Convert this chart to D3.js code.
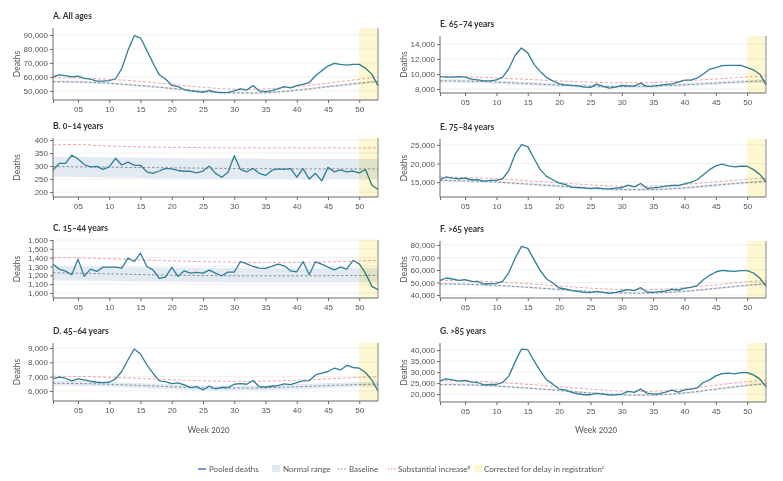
<!DOCTYPE html>
<html><head><meta charset="utf-8">
<script src="https://cdn.jsdelivr.net/npm/d3@7"></script>
<style>
body{margin:0;background:#fff;}
svg{font-family:Lato,"Open Sans",sans-serif;font-variant-numeric:oldstyle-nums;font-feature-settings:"onum";}
</style></head><body>
<svg id="c" width="783" height="481"></svg>
<script>
const weeks = d3.range(1, 54);
const smoothWeeks = [1,5,9,13,17,21,25,29,33,37,41,45,49,53];
const xTickWeeks = [5,10,15,20,25,30,35,40,45,50];
const xTickLabels = ["05","10","15","20","25","30","35","40","45","50"];
const correctedFrom = 50;

// Panel A: All ages
const pooledA = [60000,61500,61000,60000,60500,59000,58500,57000,57000,57300,58700,66000,79000,89500,88000,79000,70000,61500,58500,54000,53000,51000,50000,49500,49000,50300,49200,48800,49000,50000,51500,50600,53800,50000,49500,50200,51500,53000,52200,53800,54700,56000,60800,64500,67800,69700,69000,68500,69000,69000,66200,62000,53800];
const baseA = [56600,56400,55700,54500,53000,51300,49700,48600,48500,49300,51000,53000,55000,56800];
const lowA = [55800,55600,54900,53700,52200,50500,48900,47800,47700,48500,50200,52200,54200,56000];
const highA = [57400,57200,56500,55300,53800,52100,50500,49400,49300,50100,51800,53800,55800,57600];
const subA = [59400,59200,58500,57500,56000,54200,52600,51400,51200,52000,53600,55600,57800,59800];
const ticksA = [50000,60000,70000,80000,90000];

// Panel B: 0-14 years
const pooledB = [285,310,310,342,327,306,297,299,287,297,330,304,315,303,303,278,272,281,291,289,283,280,280,274,281,300,272,257,276,340,287,278,291,272,264,283,289,287,291,257,290,250,272,243,295,278,285,278,281,274,287,227,210];
const baseB = [298,297,296,295,294,293,292,291,290,290,289,289,289,289];
const lowB = [259,258,256,255,253,252,251,250,250,249,249,249,249,249];
const highB = [336,335,334,333,332,331,330,329,329,328,328,328,328,328];
const subB = [381,383,378,375,373,372,371,370,370,370,370,370,370,370];
const ticksB = [200,250,300,350,400];

// Panel C: 15-44 years
const pooledC = [1326,1270,1248,1206,1383,1188,1270,1244,1293,1293,1293,1281,1394,1356,1450,1300,1262,1165,1180,1289,1188,1251,1225,1233,1225,1259,1225,1195,1236,1236,1356,1330,1300,1281,1278,1300,1326,1308,1251,1240,1356,1206,1353,1326,1293,1262,1293,1270,1368,1330,1225,1075,1038];
const baseC = [1228,1224,1218,1212,1205,1200,1197,1195,1194,1194,1195,1196,1198,1200];
const lowC = [1145,1142,1138,1134,1130,1127,1124,1122,1121,1120,1120,1120,1120,1121];
const highC = [1300,1298,1295,1292,1289,1286,1284,1282,1281,1280,1280,1280,1281,1282];
const subC = [1400,1398,1390,1380,1370,1362,1355,1350,1347,1346,1348,1352,1360,1370];
const ticksC = [1000,1100,1200,1300,1400,1500,1600];

// Panel D: 45-64 years
const pooledD = [6840,6960,6890,6700,6840,6770,6680,6610,6590,6610,6840,7360,8180,8930,8580,7830,7240,6700,6660,6520,6560,6420,6230,6300,6070,6350,6140,6260,6230,6470,6520,6470,6730,6300,6260,6330,6370,6490,6440,6580,6700,6720,7120,7240,7360,7590,7470,7780,7640,7590,7290,6770,6000];
const baseD = [6540,6520,6480,6420,6350,6280,6220,6200,6210,6250,6310,6380,6440,6480];
const lowD = [6370,6350,6310,6250,6180,6110,6050,6030,6040,6080,6140,6210,6270,6310];
const highD = [6710,6690,6650,6590,6520,6450,6390,6370,6380,6420,6480,6550,6610,6650];
const subD = [7030,7010,6970,6910,6840,6770,6710,6680,6680,6710,6770,6850,6930,7000];
const ticksD = [6000,7000,8000,9000];

// Panel E: 65-74 years
const pooledE1 = [9660,9580,9580,9660,9580,9310,9220,9090,9090,9220,9580,10760,12510,13470,12820,11290,10320,9530,9090,8700,8560,8480,8430,8260,8210,8650,8340,8120,8260,8480,8430,8390,8780,8340,8390,8480,8610,8700,8920,9180,9180,9440,10010,10630,10850,11110,11160,11160,11160,10850,10540,10010,8560];
const baseE1 = [9090,9060,8960,8800,8640,8490,8380,8330,8350,8450,8610,8790,8960,9090];
const lowE1 = [8870,8840,8740,8580,8420,8270,8160,8110,8130,8230,8390,8570,8740,8870];
const highE1 = [9310,9280,9180,9020,8860,8710,8600,8550,8570,8670,8830,9010,9180,9310];
const subE1 = [9660,9630,9520,9360,9200,9040,8910,8830,8840,8950,9130,9340,9560,9750];
const ticksE1 = [8000,10000,12000,14000];

// Panel E: 75-84 years
const pooledE2 = [15730,16360,16090,15910,16090,15640,15640,15270,15450,15450,15910,18180,22550,25090,24550,21360,18360,16540,15640,14730,14360,13640,13550,13450,13270,13450,13270,13180,13360,13550,14180,13730,14640,13360,13450,13640,13910,14090,14090,14550,14910,15640,17000,18360,19360,19820,19360,19090,19270,19270,18360,17090,15180];
const baseE2 = [15450,15350,15100,14700,14250,13800,13350,13050,12980,13150,13600,14200,14750,15200];
const lowE2 = [15100,15000,14750,14350,13900,13450,13000,12700,12630,12800,13250,13850,14400,14850];
const highE2 = [15800,15700,15450,15050,14600,14150,13700,13400,13330,13500,13950,14550,15100,15550];
const subE2 = [16360,16250,16000,15600,15150,14700,14250,13950,13880,14050,14500,15100,15650,16100];
const ticksE2 = [15000,20000,25000];

// Panel F: >65 years
const pooledF = [51730,53600,52800,51730,52270,50930,50670,48800,49070,49330,50930,58130,69600,78930,77330,68270,59470,52800,49600,45600,44800,43470,42930,42130,41870,42930,42130,41330,42130,43200,44270,43470,45870,42400,42130,42670,43200,44530,44000,45330,46130,47470,52270,55730,58400,59730,59200,58930,59470,59470,57600,53600,46930];
const baseF = [48800,48600,47900,46800,45500,44100,42800,41800,41500,42000,43400,45300,47300,49000];
const lowF = [48000,47800,47100,46000,44700,43300,42000,41000,40700,41200,42600,44500,46500,48200];
const highF = [49600,49400,48700,47600,46300,44900,43600,42600,42300,42800,44200,46100,48100,49800];
const subF = [51700,51500,50800,49700,48300,46800,45500,44500,44200,44800,46300,48200,50200,51500];
const ticksF = [40000,50000,60000,70000,80000];

// Panel G: >85 years
const pooledG = [26020,26920,26470,25870,26170,25420,25260,24210,24360,24360,25260,28270,34740,40450,40150,35040,30530,26470,24510,22260,21950,20750,20150,19700,19700,20300,20000,19550,19700,20000,21200,20750,22260,20450,20000,20150,20900,21800,20900,21950,22260,22710,25260,26470,28270,29320,29470,29170,29770,29770,28720,26920,23310];
const baseG = [24300,24200,23800,23100,22300,21400,20500,19800,19500,19800,20800,22200,23600,24700];
const lowG = [23800,23700,23300,22600,21800,20900,20000,19300,19000,19300,20300,21700,23100,24200];
const highG = [24800,24700,24300,23600,22800,21900,21000,20300,20000,20300,21300,22700,24100,25200];
const subG = [26000,25900,25500,24800,24000,23100,22200,21500,21200,21600,22600,24000,25400,26300];
const ticksG = [20000,25000,30000,35000,40000];

const legendLabels = ["Pooled deaths","Normal range","Baseline","Substantial increase","Corrected for delay in registration"];

const panels = [
  {title:"A. All ages", pooled:pooledA, base:baseA, low:lowA, high:highA, sub:subA, ticks:ticksA, domain:[43500,95000], x0:53, x1:378, y0:28, y1:100},
  {title:"B. 0–14 years", pooled:pooledB, base:baseB, low:lowB, high:highB, sub:subB, ticks:ticksB, domain:[181,408], x0:53, x1:378, y0:138, y1:197},
  {title:"C. 15–44 years", pooled:pooledC, base:baseC, low:lowC, high:highC, sub:subC, ticks:ticksC, domain:[943,1600], x0:53, x1:378, y0:240, y1:298},
  {title:"D. 45–64 years", pooled:pooledD, base:baseD, low:lowD, high:highD, sub:subD, ticks:ticksD, domain:[5300,9350], x0:53, x1:378, y0:343, y1:401},
  {title:"E. 65–74 years", pooled:pooledE1, base:baseE1, low:lowE1, high:highE1, sub:subE1, ticks:ticksE1, domain:[7470,15070], x0:440, x1:766, y0:36, y1:93},
  {title:"E. 75–84 years", pooled:pooledE2, base:baseE2, low:lowE2, high:highE2, sub:subE2, ticks:ticksE2, domain:[11000,26600], x0:440, x1:766, y0:139, y1:197},
  {title:"F. >65 years", pooled:pooledF, base:baseF, low:lowF, high:highF, sub:subF, ticks:ticksF, domain:[37600,83200], x0:440, x1:766, y0:241, y1:298},
  {title:"G. >85 years", pooled:pooledG, base:baseG, low:lowG, high:highG, sub:subG, ticks:ticksG, domain:[16400,43200], x0:440, x1:766, y0:343, y1:402}
];

const C = {line:"#2f7f99", band:"#e3eaf1", base:"#8a8f96", sub:"#f2a3a3", yellow:"#fdf8d2", axis:"#6b6b6b", text:"#555", title:"#333", grid:"#ececec"};
const svg = d3.select("#c");
const fmt = d3.format(",");

panels.forEach((p, i) => {
  const x = d3.scaleLinear().domain([1,53]).range([p.x0, p.x1]);
  const y = d3.scaleLinear().domain(p.domain).range([p.y1, p.y0]);
  const g = svg.append("g");

  g.append("text").attr("x", p.x0).attr("y", p.y0 - 9).attr("font-size", 8.5).attr("font-weight", "bold").attr("fill", C.title).text(p.title);

  g.selectAll(".grid").data(p.ticks).join("line")
    .attr("x1", p.x0).attr("x2", p.x1).attr("y1", d => y(d)).attr("y2", d => y(d))
    .attr("stroke", C.grid).attr("stroke-width", 0.8);

  const smooth = smoothWeeks.map((w, k) => ({w, lo:p.low[k], hi:p.high[k], b:p.base[k], s:p.sub[k]}));
  g.append("path").datum(smooth)
    .attr("d", d3.area().x(d => x(d.w)).y0(d => y(d.lo)).y1(d => y(d.hi)).curve(d3.curveMonotoneX))
    .attr("fill", C.band);
  g.append("path").datum(smooth)
    .attr("d", d3.line().x(d => x(d.w)).y(d => y(d.b)).curve(d3.curveMonotoneX))
    .attr("fill", "none").attr("stroke", C.base).attr("stroke-width", 1).attr("stroke-dasharray", "2.5,2");
  g.append("path").datum(smooth)
    .attr("d", d3.line().x(d => x(d.w)).y(d => y(d.s)).curve(d3.curveMonotoneX))
    .attr("fill", "none").attr("stroke", C.sub).attr("stroke-width", 1).attr("stroke-dasharray", "3,2");
  g.append("path").datum(weeks.map((w, k) => [w, p.pooled[k]]))
    .attr("d", d3.line().x(d => x(d[0])).y(d => y(d[1])))
    .attr("fill", "none").attr("stroke", C.line).attr("stroke-width", 1.3).attr("stroke-linejoin", "round");

  g.append("rect").attr("x", x(correctedFrom)).attr("y", p.y0).attr("width", x(53) - x(correctedFrom)).attr("height", p.y1 - p.y0)
    .attr("fill", C.yellow).style("mix-blend-mode", "multiply");

  g.append("line").attr("x1", p.x1).attr("x2", p.x1).attr("y1", p.y0).attr("y2", p.y1).attr("stroke", C.axis).attr("stroke-width", 0.8);

  const ya = g.append("g").attr("transform", `translate(${p.x0},0)`)
    .call(d3.axisLeft(y).tickValues(p.ticks).tickFormat(fmt).tickSize(3).tickPadding(2));
  ya.select(".domain").attr("stroke", C.axis).attr("d", `M0,${p.y0}V${p.y1}`);
  ya.selectAll(".tick line").attr("stroke", C.axis);
  ya.selectAll("text").attr("font-size", 8).attr("fill", C.text).attr("font-family", null);

  const xa = g.append("g").attr("transform", `translate(0,${p.y1})`)
    .call(d3.axisBottom(x).tickValues([1].concat(xTickWeeks)).tickFormat((d) => { const k = xTickWeeks.indexOf(d); return k >= 0 ? xTickLabels[k] : ""; }).tickSize(3).tickPadding(3));
  xa.select(".domain").attr("stroke", C.axis).attr("d", `M${p.x0},0H${p.x1}`);
  xa.selectAll(".tick line").attr("stroke", C.axis);
  xa.selectAll("text").attr("font-size", 8).attr("fill", C.text).attr("font-family", null);

  g.append("text").attr("transform", `translate(${p.x0 - 33},${(p.y0 + p.y1) / 2}) rotate(-90)`)
    .attr("text-anchor", "middle").attr("font-size", 8.5).attr("fill", C.text).text("Deaths");

  if (i === 3 || i === 7) {
    g.append("text").attr("x", (p.x0 + p.x1) / 2 - 7).attr("y", 433).attr("text-anchor", "middle")
      .attr("font-size", 8.5).attr("fill", C.text).text("Week 2020");
  }
});

const ly = 469;
const lg = svg.append("g").attr("font-size", 8).attr("fill", C.text);
lg.append("line").attr("x1", 198).attr("x2", 206).attr("y1", ly).attr("y2", ly).attr("stroke", "#3a5fa8").attr("stroke-width", 1.3);
lg.append("text").attr("x", 209).attr("y", ly + 3).text(legendLabels[0]);
lg.append("rect").attr("x", 272).attr("y", ly - 4).attr("width", 8).attr("height", 7).attr("fill", C.band);
lg.append("text").attr("x", 283).attr("y", ly + 3).text(legendLabels[1]);
lg.append("line").attr("x1", 338).attr("x2", 347).attr("y1", ly).attr("y2", ly).attr("stroke", C.base).attr("stroke-dasharray", "1.5,1.5");
lg.append("text").attr("x", 349).attr("y", ly + 3).text(legendLabels[2]);
lg.append("line").attr("x1", 388).attr("x2", 397).attr("y1", ly).attr("y2", ly).attr("stroke", "#f08080").attr("stroke-dasharray", "1.5,1.5");
const t4 = lg.append("text").attr("x", 398).attr("y", ly + 3).text(legendLabels[3]);
t4.append("tspan").attr("font-size", 5).attr("dy", -3).text("b");
lg.append("rect").attr("x", 474).attr("y", ly - 4).attr("width", 8).attr("height", 7).attr("fill", C.yellow);
const t5 = lg.append("text").attr("x", 484).attr("y", ly + 3).text(legendLabels[4]);
t5.append("tspan").attr("font-size", 5).attr("dy", -3).text("c");
</script>
</body></html>
